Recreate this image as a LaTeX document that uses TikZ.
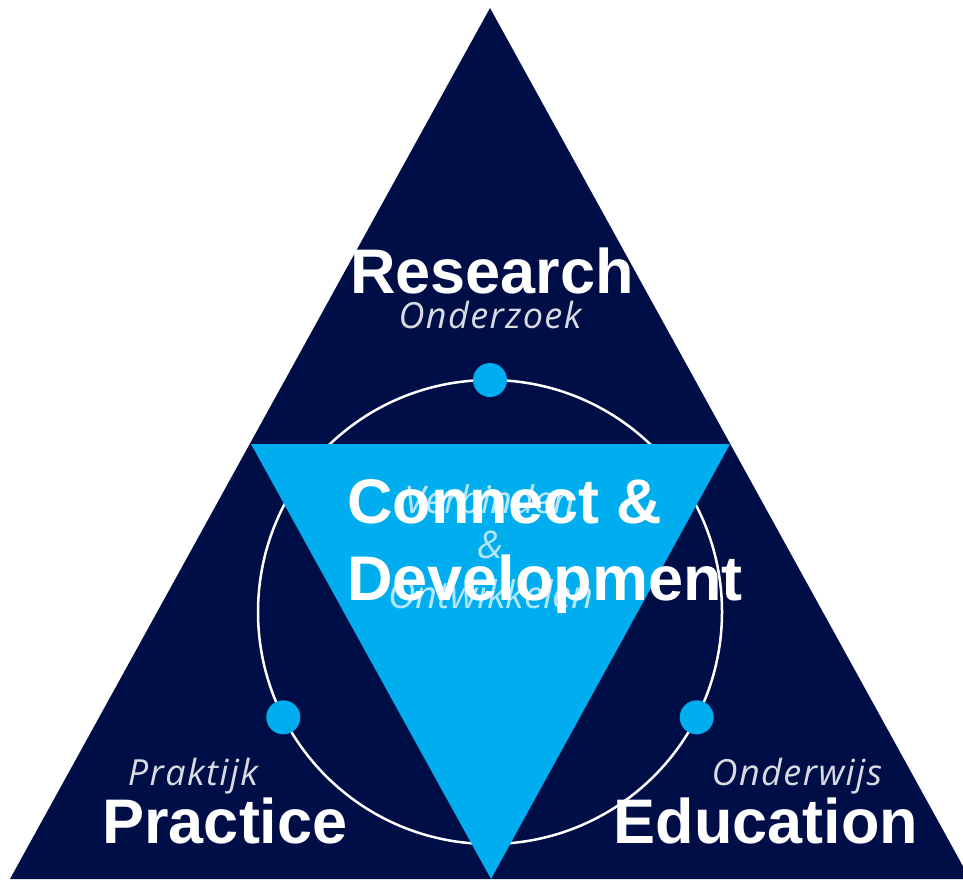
\documentclass[tikz,border=0pt]{standalone}
\usepackage{fontspec}
\setmainfont{Liberation Sans}
\newfontfamily\dutchfont{Open Sans}
\newfontfamily\dutchwidefont[LetterSpace=4]{Open Sans}
\usetikzlibrary{calc}
\definecolor{navy}{RGB}{0,14,72}
\definecolor{skyblue}{RGB}{0,174,239}
\tikzset{every node/.style={inner sep=0pt, anchor=base},
  bigword/.style={text=white, font=\fontsize{63}{70}\selectfont\bfseries},
  dutchword/.style={text=white, text opacity=0.85, font=\dutchwidefont\itshape\fontsize{36}{40}\selectfont},
  linkword/.style={text=white, text opacity=0.7, font=\dutchfont\itshape\fontsize{38}{44}\selectfont},
  hubdot/.style={fill=skyblue, circle, minimum size=34pt}}

\begin{document}
\begin{tikzpicture}[x=1pt,y=-1pt]
  \useasboundingbox (0,0) rectangle (963,879);
  \clip (0,0) rectangle (963,879);
  \fill[navy] (490,8) -- (10,879) -- (970,879) -- cycle;
  \coordinate (hub) at (490,612);
  \draw[white, line width=2.5pt] (hub) circle[radius=232];
  \foreach \a/\n in {-90/top, 153/left, 27/right}
    \node[hubdot, anchor=center] (dot\n) at ($(hub)+(\a:232)$) {};
  \fill[skyblue] (251,444) -- (730,444) -- (491,879) -- cycle;
  % Dutch names
  \node[dutchword] (onderzoek) at (490,328) {Onderzoek};
  \node[dutchword] (praktijk) at (193,785) {Praktijk};
  \node[dutchword] (onderwijs) at (797,785) {Onderwijs};
  \node[linkword] (verbinden) at (490,513) {Verbinden};
  \node[linkword] (en) at (490,558) {\&};
  \node[linkword] (ontwikkelen) at (491,608) {Ontwikkelen};
  % English names
  \node[bigword] (research) at (492,293) {Research};
  \node[bigword] (practice) at (225,843) {Practice};
  \node[bigword] (education) at (766,843) {Education};
  \node[bigword, anchor=base west] (connect) at (347,523) {Connect \&};
  \node[bigword, anchor=base west] (develop) at (347,600) {Development};
\end{tikzpicture}
\end{document}
